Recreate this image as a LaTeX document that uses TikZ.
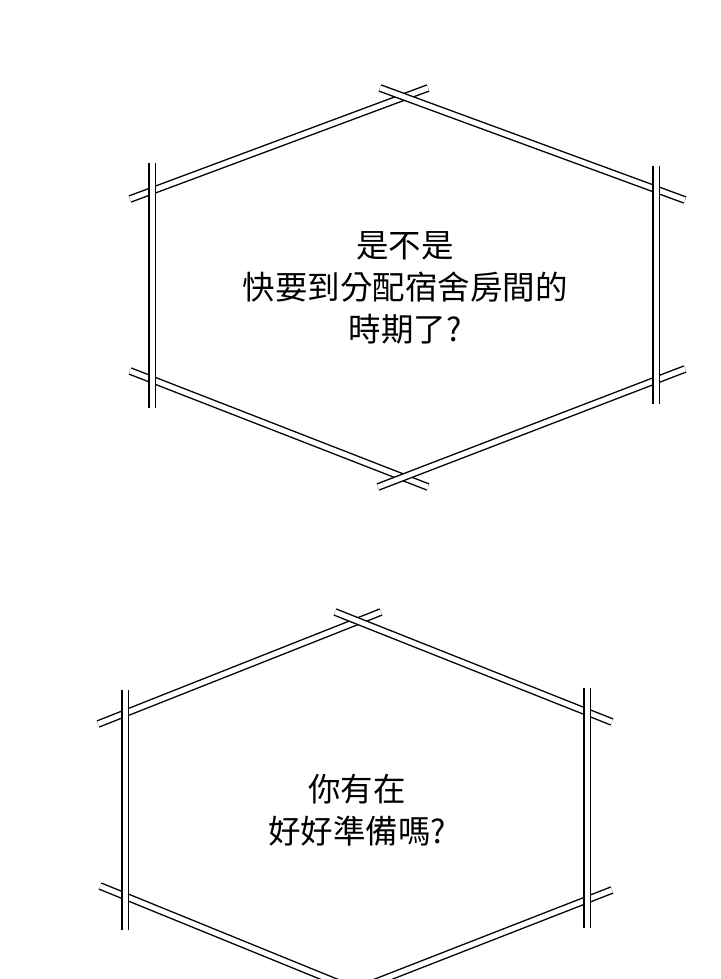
\documentclass[tikz,border=0pt]{standalone}
\usepackage{fontspec}
\newfontfamily\cjk{Noto Sans CJK TC}
\tikzset{
  bar/.style={draw=black, line width=1.4pt, double=white, double distance=5pt},
  talk/.style={font=\cjk\fontsize{32.5}{42}\selectfont, align=center, text=black}
}
\begin{document}
\begin{tikzpicture}[x=1pt,y=-1pt]
    \useasboundingbox (0,0) rectangle (720,979);
    \clip (0,0) rectangle (720,979);
	% first frame
	\coordinate (A1) at (130,199);  \coordinate (A2) at (428,88);
	\coordinate (B1) at (380,88);   \coordinate (B2) at (685,200);
	\coordinate (C1) at (130,371);  \coordinate (C2) at (428,487);
	\coordinate (D1) at (378,487);  \coordinate (D2) at (685,369);
	\draw [bar] (A1) -- (A2);
	\draw [bar] (B1) -- (B2);
	\draw [bar] (C1) -- (C2);
	\draw [bar] (D1) -- (D2);
	\draw [bar] (152,163) -- (152,408);
	\draw [bar] (656,166) -- (656,404);
	\node [talk] (q1) at (405,288) {是不是\\快要到分配宿舍房間的\\時期了?};
	% second frame
	\coordinate (E1) at (98,724);   \coordinate (E2) at (381,612);
	\coordinate (F1) at (335,612);  \coordinate (F2) at (612,722);
	\coordinate (G1) at (100,886);  \coordinate (G2) at (380,1000);
	\coordinate (H1) at (612,890);  \coordinate (H2) at (330,1000);
	\draw [bar] (E1) -- (E2);
	\draw [bar] (F1) -- (F2);
	\draw [bar] (G1) -- (G2);
	\draw [bar] (H1) -- (H2);
	\draw [bar] (125,690) -- (125,930);
	\draw [bar] (587,688) -- (587,928);
	\node [talk] (q2) at (357,810) {你有在\\好好準備嗎?};
\end{tikzpicture}
\end{document}
